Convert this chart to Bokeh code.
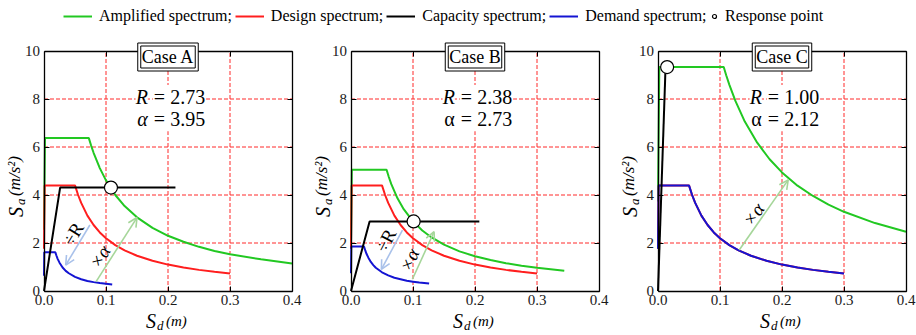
from bokeh.plotting import figure
from bokeh.layouts import column, row
from bokeh.models import (Range1d, LinearAxis, FixedTicker, Label, Arrow, OpenHead,
                          Legend, LegendItem)
from bokeh.embed import file_html
from bokeh.resources import INLINE
import math

FONT = "Liberation Serif"
GREEN = "#22c822"
RED = "#ff1e1e"
BLUE = "#1414d2"
BLACK = "#000000"
ARROW_BLUE = "#a9c1ea"
ARROW_GREEN = "#a6d69a"
GRID_RED = "#ff2a2a"

# ---- axes ----
X_MAX = 0.4
Y_MAX = 10
X_TICKS = [0.0, 0.1, 0.2, 0.3, 0.4]
X_TICK_LABELS = ["0.0", "0.1", "0.2", "0.3", "0.4"]
Y_TICKS = [0, 2, 4, 6, 8, 10]
Y_TICK_LABELS = ["0", "2", "4", "6", "8", "10"]
X_GRID = [0.1, 0.2, 0.3]
Y_GRID = [2, 4, 6, 8]

CASE_NAMES = ["Case A", "Case B", "Case C"]
R_VALUES = [2.73, 2.38, 1.00]
ALPHA_VALUES = [3.95, 2.73, 2.12]

# ---- design spectrum (ADRS format), same in every case ----
DESIGN_SD = [0.0, 0.001, 0.050, 0.055, 0.060, 0.070, 0.080, 0.090, 0.100, 0.115,
             0.130, 0.150, 0.175, 0.200, 0.225, 0.250, 0.275, 0.300]
DESIGN_SA = [1.76, 4.40, 4.40, 4.00, 3.67, 3.14, 2.75, 2.44, 2.20, 1.91,
             1.69, 1.47, 1.26, 1.10, 0.98, 0.88, 0.80, 0.73]

# ---- Case A ----
A_DEMAND_SD = [0.0, 0.0004, 0.0183, 0.020, 0.022, 0.025, 0.030, 0.035, 0.040, 0.050,
               0.060, 0.070, 0.080, 0.090, 0.100, 0.110]
A_DEMAND_SA = [0.64, 1.61, 1.61, 1.48, 1.34, 1.18, 0.98, 0.84, 0.74, 0.59,
               0.49, 0.42, 0.37, 0.33, 0.30, 0.27]
A_AMP_SD = [0.0, 0.0016, 0.0723, 0.076, 0.080, 0.090, 0.100, 0.115, 0.130, 0.150,
            0.175, 0.200, 0.225, 0.250, 0.275, 0.300, 0.350, 0.400]
A_AMP_SA = [2.55, 6.37, 6.37, 6.06, 5.76, 5.12, 4.61, 4.00, 3.54, 3.07,
            2.63, 2.30, 2.05, 1.84, 1.67, 1.53, 1.32, 1.15]
A_CAP_SD = [0.0, 0.026, 0.212]
A_CAP_SA = [0.0, 4.31, 4.31]
A_RESPONSE = (0.108, 4.31)

# ---- Case B ----
B_DEMAND_SD = [0.0, 0.0005, 0.0210, 0.023, 0.025, 0.028, 0.032, 0.036, 0.040, 0.050,
               0.060, 0.070, 0.080, 0.090, 0.100, 0.110, 0.126]
B_DEMAND_SA = [0.74, 1.85, 1.85, 1.69, 1.55, 1.39, 1.21, 1.08, 0.97, 0.78,
               0.65, 0.55, 0.49, 0.43, 0.39, 0.35, 0.31]
B_AMP_SD = [0.0, 0.0013, 0.0574, 0.061, 0.065, 0.075, 0.085, 0.100, 0.115, 0.130,
            0.150, 0.175, 0.200, 0.225, 0.250, 0.275, 0.300, 0.344]
B_AMP_SA = [2.02, 5.05, 5.05, 4.75, 4.45, 3.86, 3.41, 2.90, 2.52, 2.23,
            1.93, 1.65, 1.45, 1.29, 1.16, 1.05, 0.97, 0.84]
B_CAP_SD = [0.0, 0.030, 0.207]
B_CAP_SA = [0.0, 2.90, 2.90]
B_RESPONSE = (0.101, 2.90)

# ---- Case C (R = 1: demand coincides with design) ----
C_DEMAND_SD = [0.0, 0.001, 0.050, 0.055, 0.060, 0.070, 0.080, 0.090, 0.100, 0.115,
               0.130, 0.150, 0.175, 0.200, 0.225, 0.250, 0.275, 0.300]
C_DEMAND_SA = [1.76, 4.40, 4.40, 4.00, 3.67, 3.14, 2.75, 2.44, 2.20, 1.91,
               1.69, 1.47, 1.26, 1.10, 0.98, 0.88, 0.80, 0.73]
C_AMP_SD = [0.0, 0.0021, 0.106, 0.110, 0.115, 0.125, 0.140, 0.160, 0.180, 0.200,
            0.225, 0.250, 0.275, 0.300, 0.350, 0.400]
C_AMP_SA = [3.73, 9.33, 9.33, 8.99, 8.60, 7.91, 7.06, 6.18, 5.49, 4.94,
            4.39, 3.96, 3.60, 3.30, 2.83, 2.47]
C_CAP_SD = [0.0, 0.012]
C_CAP_SA = [0.0, 9.20]
C_RESPONSE = (0.0147, 9.33)

# scaling arrows: (label, start, end, colour, label position, angle in degrees)
A_ARROWS = [("÷R", (0.074, 2.75), (0.035, 1.08), ARROW_BLUE, (0.047, 2.38), 58.7),
            ("×α", (0.084, 0.39), (0.150, 3.06), ARROW_GREEN, (0.090, 1.43), 57.6)]
B_ARROWS = [("÷R", (0.083, 2.54), (0.049, 0.90), ARROW_BLUE, (0.056, 2.10), 62.3),
            ("×α", (0.099, 0.49), (0.134, 2.47), ARROW_GREEN, (0.094, 1.29), 65.6)]
C_ARROWS = [("×α", (0.131, 1.71), (0.210, 4.63), ARROW_GREEN, (0.154, 3.19), 55.4)]

CASES = [
    dict(amp=(A_AMP_SD, A_AMP_SA), demand=(A_DEMAND_SD, A_DEMAND_SA), cap=(A_CAP_SD, A_CAP_SA),
         resp=A_RESPONSE, arrows=A_ARROWS, alpha_italic=True, width=306, left=43.5),
    dict(amp=(B_AMP_SD, B_AMP_SA), demand=(B_DEMAND_SD, B_DEMAND_SA), cap=(B_CAP_SD, B_CAP_SA),
         resp=B_RESPONSE, arrows=B_ARROWS, alpha_italic=False, width=307, left=44.5),
    dict(amp=(C_AMP_SD, C_AMP_SA), demand=(C_DEMAND_SD, C_DEMAND_SA), cap=(C_CAP_SD, C_CAP_SA),
         resp=C_RESPONSE, arrows=C_ARROWS, alpha_italic=False, width=303, left=44.5),
]

# panel geometry in pixels (half-pixel offsets keep the 1px lines crisp)
PANEL_H = 305
BOX_W, BOX_H = 248, 240
BOX_TOP, BOX_BOTTOM = 20.5, 44.5


def add_text(p, x, y, s, size, style="normal", dx=0, dy=0, angle=0.0, align="left",
             baseline="alphabetic", bg=None, pad=0, border=None):
    p.add_layout(Label(x=x, y=y, x_offset=dx, y_offset=dy, text=s, angle=angle,
                       text_font=FONT, text_font_size=f"{size}px", text_font_style=style,
                       text_align=align, text_baseline=baseline, text_color="black",
                       background_fill_color=bg, padding=pad,
                       border_line_color=border, border_line_width=1))


def make_axis(ticks, labels, loc, bounds, show_labels):
    return LinearAxis(ticker=FixedTicker(ticks=ticks), fixed_location=loc, bounds=bounds,
                      axis_line_color=BLACK, axis_line_width=1.3,
                      major_tick_in=5, major_tick_out=0, minor_tick_in=0, minor_tick_out=0,
                      major_tick_line_color=BLACK,
                      major_label_overrides=dict(zip(ticks, labels if show_labels
                                                     else [""] * len(ticks))),
                      major_label_text_font=FONT, major_label_text_font_size="15px",
                      major_label_text_color="#1a1a1a", major_label_standoff=4)


def make_panel(i, case):
    px_x = BOX_W / X_MAX
    px_y = BOX_H / Y_MAX
    left = case["left"]
    p = figure(width=case["width"], height=PANEL_H, title=None,
               x_range=Range1d(-left / px_x, (case["width"] - left) / px_x),
               y_range=Range1d(-BOX_BOTTOM / px_y, Y_MAX + BOX_TOP / px_y),
               x_axis_type=None, y_axis_type=None,
               output_backend="svg", toolbar_location=None, min_border=0,
               outline_line_color=None)

    # dashed red grid inside the plotting box
    p.segment(x0=X_GRID, y0=[0] * len(X_GRID), x1=X_GRID, y1=[Y_MAX] * len(X_GRID),
              line_color=GRID_RED, line_dash="4 2", line_width=1)
    p.segment(x0=[0] * len(Y_GRID), y0=Y_GRID, x1=[X_MAX] * len(Y_GRID), y1=Y_GRID,
              line_color=GRID_RED, line_dash="4 2", line_width=1)

    # boxed axes with inward ticks on all four sides
    p.add_layout(make_axis(X_TICKS, X_TICK_LABELS, 0, (0, X_MAX), True), "below")
    p.add_layout(make_axis(Y_TICKS, Y_TICK_LABELS, 0, (0, Y_MAX), True), "left")
    p.add_layout(make_axis(X_TICKS, X_TICK_LABELS, Y_MAX, (0, X_MAX), False), "above")
    p.add_layout(make_axis(Y_TICKS, Y_TICK_LABELS, X_MAX, (0, Y_MAX), False), "right")

    p.line(*case["amp"], color=GREEN, line_width=2)
    p.line(DESIGN_SD, DESIGN_SA, color=RED, line_width=2)
    p.line(*case["demand"], color=BLUE, line_width=2)
    p.line(*case["cap"], color=BLACK, line_width=2)

    for lab, (x0, y0), (x1, y1), col, (lx, ly), ang in case["arrows"]:
        p.add_layout(Arrow(x_start=x0, y_start=y0, x_end=x1, y_end=y1, line_color=col,
                           line_width=1.6,
                           end=OpenHead(size=9, line_color=col, line_width=1.6)))
        add_text(p, lx, ly, lab, 19, style="italic" if "α" in lab else "normal",
                 angle=math.radians(ang), align="center", baseline="middle")

    rx, ry = case["resp"]
    p.scatter([rx], [ry], marker="circle", size=13, fill_color="white",
              line_color=BLACK, line_width=1.2)

    # case title box with a double frame, sitting on the top edge
    add_text(p, 0.2, 9.75, CASE_NAMES[i], 18, align="center", baseline="middle",
             bg="white", pad=4, border=BLACK)
    add_text(p, 0.2, 9.75, CASE_NAMES[i], 18, align="center", baseline="middle",
             bg="white", pad=1, border=BLACK)

    # R and alpha values
    ax_ = 0.1675
    add_text(p, ax_, 8.08, "R", 20, style="italic", align="right", baseline="middle",
             bg="white", pad=0)
    add_text(p, ax_, 8.08, f"= {R_VALUES[i]:.2f}", 20, dx=5, baseline="middle",
             bg="white", pad=1)
    add_text(p, ax_, 7.16, "α", 20, style="italic" if case["alpha_italic"] else "normal",
             align="right", baseline="middle", bg="white", pad=0)
    add_text(p, ax_, 7.16, f"= {ALPHA_VALUES[i]:.2f}", 20, dx=5, baseline="middle",
             bg="white", pad=1)

    # axis titles
    add_text(p, 0.2, -1.25, "S", 20, style="italic", dx=-22)
    add_text(p, 0.2, -1.25, "d", 13, style="italic", dx=-11, dy=-4)
    add_text(p, 0.2, -1.25, "(m)", 15, style="italic", dx=-2)

    add_text(p, 0.0, 5.0, "S", 20, style="italic", dx=-28, dy=-46, angle=math.pi / 2)
    add_text(p, 0.0, 5.0, "a", 13, style="italic", dx=-24, dy=-34, angle=math.pi / 2)
    add_text(p, 0.0, 5.0, "(m/s²)", 17, style="italic", dx=-30, dy=-25, angle=math.pi / 2)
    return p


panels = [make_panel(i, c) for i, c in enumerate(CASES)]

# ---- shared legend strip ----
leg = figure(width=916, height=30, title=None, x_range=Range1d(0, 1), y_range=Range1d(0, 1),
             output_backend="svg", toolbar_location=None, min_border=0,
             x_axis_type=None, y_axis_type=None, outline_line_color=None)
NO_DATA = [float("nan")]
r_amp = leg.line(NO_DATA, NO_DATA, color=GREEN, line_width=2)
r_des = leg.line(NO_DATA, NO_DATA, color=RED, line_width=2)
r_cap = leg.line(NO_DATA, NO_DATA, color=BLACK, line_width=2)
r_dem = leg.line(NO_DATA, NO_DATA, color=BLUE, line_width=2)
r_pt = leg.scatter(NO_DATA, NO_DATA, marker="circle", size=10, fill_color="white",
                   line_color=BLACK, line_width=1.2)

common = dict(orientation="horizontal", padding=0, margin=0, border_line_color=None,
              background_fill_alpha=0, label_text_font=FONT, label_text_font_size="16px",
              label_text_color="black", spacing=3)
leg.add_layout(Legend(items=[LegendItem(label="Amplified spectrum;", renderers=[r_amp]),
                             LegendItem(label="Design spectrum;", renderers=[r_des]),
                             LegendItem(label="Capacity spectrum;", renderers=[r_cap]),
                             LegendItem(label="Demand spectrum;", renderers=[r_dem])],
                      location=(63, 4), glyph_width=29, label_standoff=7, **common))
leg.add_layout(Legend(items=[LegendItem(label="Response point", renderers=[r_pt])],
                      location=(709, 4), glyph_width=10, label_standoff=6, **common))

layout = column(leg, row(*panels))
open("out.html", "w").write(file_html(layout, INLINE))
